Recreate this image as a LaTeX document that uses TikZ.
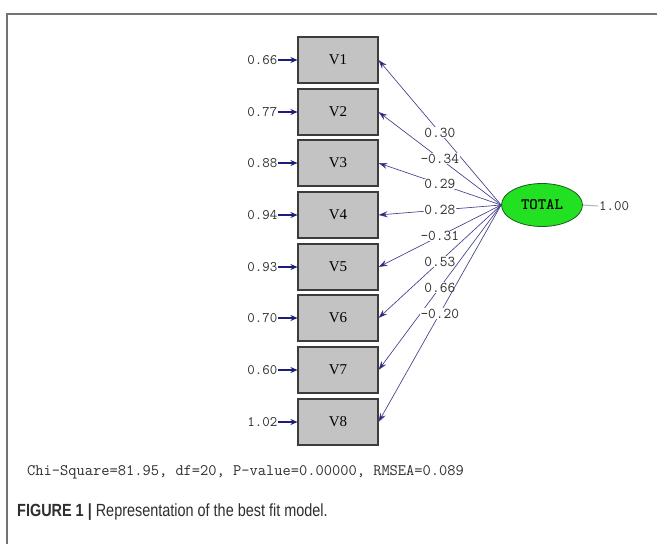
\documentclass[tikz,border=0pt]{standalone}
\usepackage{fontspec}
\setmainfont{Liberation Serif}
\newfontfamily\capf[FakeStretch=0.82]{Liberation Sans}
\usetikzlibrary{shapes.geometric,arrows.meta,calc}
\definecolor{navy}{HTML}{1C1C7A}
\definecolor{linec}{HTML}{40408A}
\definecolor{boxfill}{HTML}{C3C3C3}
\definecolor{boxedge}{HTML}{3C3C3C}
\definecolor{labc}{HTML}{2E2E2E}
\definecolor{grn}{HTML}{22E022}
\definecolor{grnedge}{HTML}{1E5A1E}
\tikzset{
  varbox/.style={draw=boxedge, fill=boxfill, line width=1.1pt, minimum width=80pt, minimum height=46pt, inner sep=0pt, font=\fontsize{15}{15}\selectfont},
  latent/.style={ellipse, draw=grnedge, fill=grn, line width=0.8pt, minimum width=81pt, minimum height=43pt, inner sep=0pt, font=\ttfamily\bfseries\fontsize{16}{16}\selectfont},
  errlab/.style={anchor=east, inner sep=1pt, text=labc, font=\ttfamily\fontsize{14.5}{14.5}\selectfont},
  loadlab/.style={fill=white, inner sep=0.5pt, text=labc, font=\ttfamily\fontsize{15}{15}\selectfont},
  loadline/.style={draw=linec, line width=0.65pt, -{Stealth[length=9pt,width=6pt,fill=navy]}},
  errline/.style={draw=navy, line width=1.3pt, -{Stealth[length=7pt,width=6pt]}},
}
\begin{document}
\begin{tikzpicture}[x=1pt,y=-1pt]
\useasboundingbox (0,0) rectangle (657,544);
\fill[white] (0,0) rectangle (657,544);
\draw[gray!90!black, line width=1.2pt] (7,544) -- (7,14) -- (657,14);

\foreach \i/\y in {1/60,2/112,3/163,4/215,5/267,6/318,7/370,8/422}{
  \node[varbox] (v\i) at (338,\y) {V\i};
}
\node[latent] (tot) at (542,205) {TOTAL};

\foreach \i/\e in {1/0.66,2/0.77,3/0.88,4/0.94,5/0.93,6/0.70,7/0.60,8/1.02}{
  \node[errlab] (e\i) at ($(v\i.west)+(-19,0)$) {\e};
  \draw[errline] (e\i.east) -- (v\i.west);
}

\foreach \i/\l in {1/0.30,2/-0.34,3/0.29,4/0.28,5/-0.31,6/0.53,7/0.66,8/-0.20}{
  \draw[loadline] (tot.west) -- node[loadlab]{\l} (v\i.east);
}

\node[anchor=west, inner sep=1pt, text=labc, font=\ttfamily\fontsize{14.5}{14.5}\selectfont] (res) at (598,206) {1.00};
\draw[gray!60, line width=1pt] (tot.east) -- (res.west);

\node[anchor=west, inner sep=0pt, text=labc, font=\ttfamily\fontsize{16}{16}\selectfont] (fit) at (27,472) {Chi-Square=81.95, df=20, P-value=0.00000, RMSEA=0.089};

\node[anchor=west, inner sep=0pt, text=labc, font=\capf\fontsize{17.6}{17.6}\selectfont] (cap) at (17,512) {\textbf{FIGURE 1 |} Representation of the best fit model.};
\end{tikzpicture}
\end{document}
